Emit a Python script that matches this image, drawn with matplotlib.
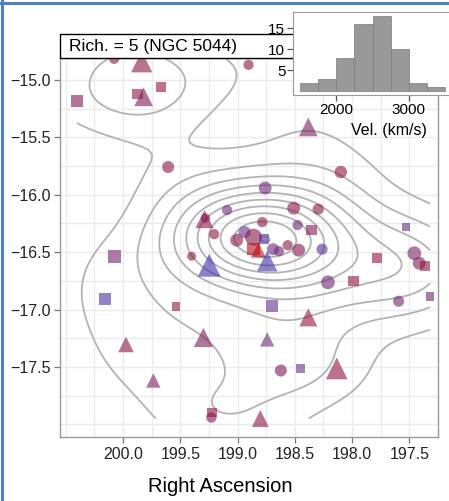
import numpy as np
import matplotlib.pyplot as plt
from matplotlib.colors import LinearSegmentedColormap, Normalize
from matplotlib.patches import Rectangle
from matplotlib.lines import Line2D

plt.rcParams['font.family'] = ['Liberation Sans', 'DejaVu Sans']

# galaxy members: position, morphology, velocity (km/s), magnitude class
ra = np.array([
    200.077, 199.837, 199.666, 199.872, 199.820, 200.402, 198.904, 199.606,
    198.382, 198.099, 198.759, 199.289, 199.281, 199.204, 199.092, 199.401,
    199.247, 199.007, 198.938, 198.861, 198.767, 198.861, 198.818, 198.741,
    198.690, 198.639, 198.562, 198.467, 198.784, 198.510, 198.296, 198.476,
    198.356, 198.262, 198.211, 197.988, 197.783, 197.526, 197.457, 197.414,
    197.363, 197.594, 197.320, 198.699, 198.382, 198.741, 198.622, 198.450,
    198.134, 198.801, 200.154, 199.538, 199.974, 199.298, 199.735, 199.221,
    199.229, 200.077,
])
dec = np.array([
    -14.817, -14.843, -15.061, -15.122, -15.148, -15.183, -14.869, -15.759,
    -15.410, -15.803, -15.942, -16.213, -16.204, -16.344, -16.134, -16.536,
    -16.614, -16.396, -16.326, -16.370, -16.387, -16.475, -16.483, -16.579,
    -16.475, -16.492, -16.440, -16.483, -16.239, -16.117, -16.126, -16.265,
    -16.309, -16.475, -16.763, -16.754, -16.553, -16.283, -16.510, -16.597,
    -16.623, -16.928, -16.885, -16.972, -17.068, -17.260, -17.531, -17.513,
    -17.513, -17.949, -16.911, -16.972, -17.304, -17.243, -17.618, -17.897,
    -17.941, -16.536,
])
morph = [
    "E", "S0", "Sp", "Sp", "S0", "Sp", "E", "E",
    "S0", "E", "E", "S0", "E", "E", "E", "E",
    "S0", "E", "E", "E", "Sp", "Sp", "S0", "S0",
    "E", "E", "E", "E", "E", "E", "E", "E",
    "Sp", "E", "E", "Sp", "Sp", "Sp", "E", "E",
    "Sp", "E", "Sp", "Sp", "S0", "S0", "E", "Sp",
    "S0", "S0", "Sp", "Sp", "S0", "S0", "S0", "Sp",
    "E", "Sp",
]
vel = np.array([
    2600, 2600, 2900, 2650, 2450, 2450, 2600, 2650,
    2400, 2750, 2250, 2550, 2600, 2600, 2250, 2700,
    1700, 2600, 2200, 2600, 2000, 3300, 3400, 1800,
    2250, 2300, 2600, 2550, 2650, 2600, 2600, 2300,
    2550, 2000, 2300, 2800, 2850, 2200, 2350, 2500,
    2650, 2350, 2300, 2150, 2850, 2250, 2450, 2150,
    2750, 2650, 1900, 2700, 2650, 2450, 2400, 2650,
    2500, 2350,
])
mag = np.array([
    1.5, 2.7, 2.2, 2.2, 2.3, 2.5, 1.5, 1.9,
    2.3, 2.0, 2.1, 2.2, 1.3, 1.5, 1.5, 1.2,
    3.0, 2.1, 1.9, 3.0, 2.0, 2.7, 1.7, 2.6,
    1.9, 1.5, 1.5, 2.1, 1.5, 2.1, 1.7, 1.5,
    2.2, 1.7, 2.3, 2.2, 2.2, 1.5, 2.3, 2.1,
    2.0, 1.7, 1.7, 2.7, 2.2, 1.6, 1.9, 1.7,
    2.8, 2.0, 2.7, 1.7, 1.8, 2.4, 1.6, 2.0,
    1.5, 3.0,
])

# velocity histogram of the group (inset)
vel_edges = [1500, 1750, 2000, 2250, 2500, 2750, 3000, 3250, 3500]
vel_counts = [2, 3, 8, 16, 18, 10, 2, 1]

title = "Rich. = 5 (NGC 5044)"

W, H = 449, 501
fig = plt.figure(figsize=(W / 100, H / 100), dpi=100)

ax = fig.add_axes([60 / W, 1 - 437 / H, 378 / W, 379 / H])
ax.set_xlim(200.55, 197.31)
ax.set_ylim(-18.11, -14.81)
ax.set_xticks([200.0, 199.5, 199.0, 198.5, 198.0, 197.5])
ax.set_xticklabels(["200.0", "199.5", "199.0", "198.5", "198.0", "197.5"])
ax.set_yticks([-17.5, -17.0, -16.5, -16.0, -15.5, -15.0])
ax.set_yticklabels(["\u221217.5", "\u221217.0", "\u221216.5", "\u221216.0", "\u221215.5", "\u221215.0"])
ax.set_xticks(np.arange(197.25, 200.6, 0.25), minor=True)
ax.set_yticks(np.arange(-18.0, -14.8, 0.25), minor=True)
ax.grid(True, which="both", color="#ebebeb", lw=1.0)
ax.set_axisbelow(True)
ax.tick_params(which="major", length=4, width=0.9, color="#777777",
               labelsize=11.5, labelcolor="#222222", pad=3)
ax.tick_params(which="minor", length=0)
for sp in ax.spines.values():
    sp.set_color("#999999")
    sp.set_linewidth(1.0)

# 2d kernel density over the data range, like kde2d (a bit smoother)
def nrd(v):
    q75, q25 = np.percentile(v, [75, 25])
    return 1.06 * min(np.std(v, ddof=1), (q75 - q25) / 1.34) * len(v) ** -0.2

gx = np.linspace(ra.min(), ra.max(), 100)
gy = np.linspace(dec.min(), dec.max(), 100)
hx, hy = nrd(ra) * 1.3, nrd(dec) * 1.1
zx = np.exp(-0.5 * ((gx[:, None] - ra[None, :]) / hx) ** 2)
zy = np.exp(-0.5 * ((gy[:, None] - dec[None, :]) / hy) ** 2)
dens = zy @ zx.T / (len(ra) * 2 * np.pi * hx * hy)
ax.contour(gx, gy, dens, levels=12, colors="#b3b3b3", linewidths=1.3, zorder=2)

cmap = LinearSegmentedColormap.from_list(
    "vel", [(0.0, "#2a2ab5"), (0.3, "#5d3593"), (0.5, "#82184f"), (1.0, "#c00a0a")]
)
norm = Normalize(1500, 3500)
markers = {"E": "o", "Sp": "s", "S0": "^"}
scale = {"E": 1.0, "Sp": 0.78, "S0": 1.35}
morph = np.array(morph)
for m, mk in markers.items():
    sel = morph == m
    d_px = (8 + (mag[sel] - 1) * 4.5) * scale[m]
    ax.scatter(ra[sel], dec[sel], s=(d_px * 0.72) ** 2, marker=mk,
               c=vel[sel], cmap=cmap, norm=norm, alpha=0.6,
               linewidths=0, zorder=3)

# facet strip
fig.add_artist(Rectangle((60 / W, 1 - 58 / H), 378 / W, 24 / H,
                         transform=fig.transFigure, fc="white", ec="black", lw=1.0, zorder=5))
fig.text(69 / W, 1 - 46.5 / H, title, fontsize=12.5, va="center", ha="left", zorder=6)

fig.text(220 / W, 1 - 486 / H, "Right Ascension", fontsize=14.5, ha="center", va="center")

# inset histogram
axi = fig.add_axes([293 / W, 1 - 95 / H, 159 / W, 83 / H], zorder=10)
axi.bar(vel_edges[:-1], vel_counts, width=np.diff(vel_edges), align="edge",
        color="#999999", edgecolor="#7a7a7a", lw=0.5)
axi.set_xlim(1400, 3600)
axi.set_ylim(-0.9, 18.9)
axi.set_xticks([2000, 3000])
axi.set_yticks([5, 10, 15])
axi.tick_params(length=4, width=0.9, color="#555555", labelsize=11, pad=1.5)
axi.set_facecolor("white")
for sp in axi.spines.values():
    sp.set_color("#999999")
fig.text(389 / W, 1 - 130 / H, "Vel. (km/s)", fontsize=11.5, ha="center", va="center", zorder=11)

# window frame
fig.add_artist(Line2D([2 / W, 2 / W], [0, 1], color="#4f7fc4", lw=2.2))
fig.add_artist(Line2D([0, 1], [1 - 3 / H, 1 - 3 / H], color="#4f7fc4", lw=2.2))

fig.savefig("out.png", dpi=100)
